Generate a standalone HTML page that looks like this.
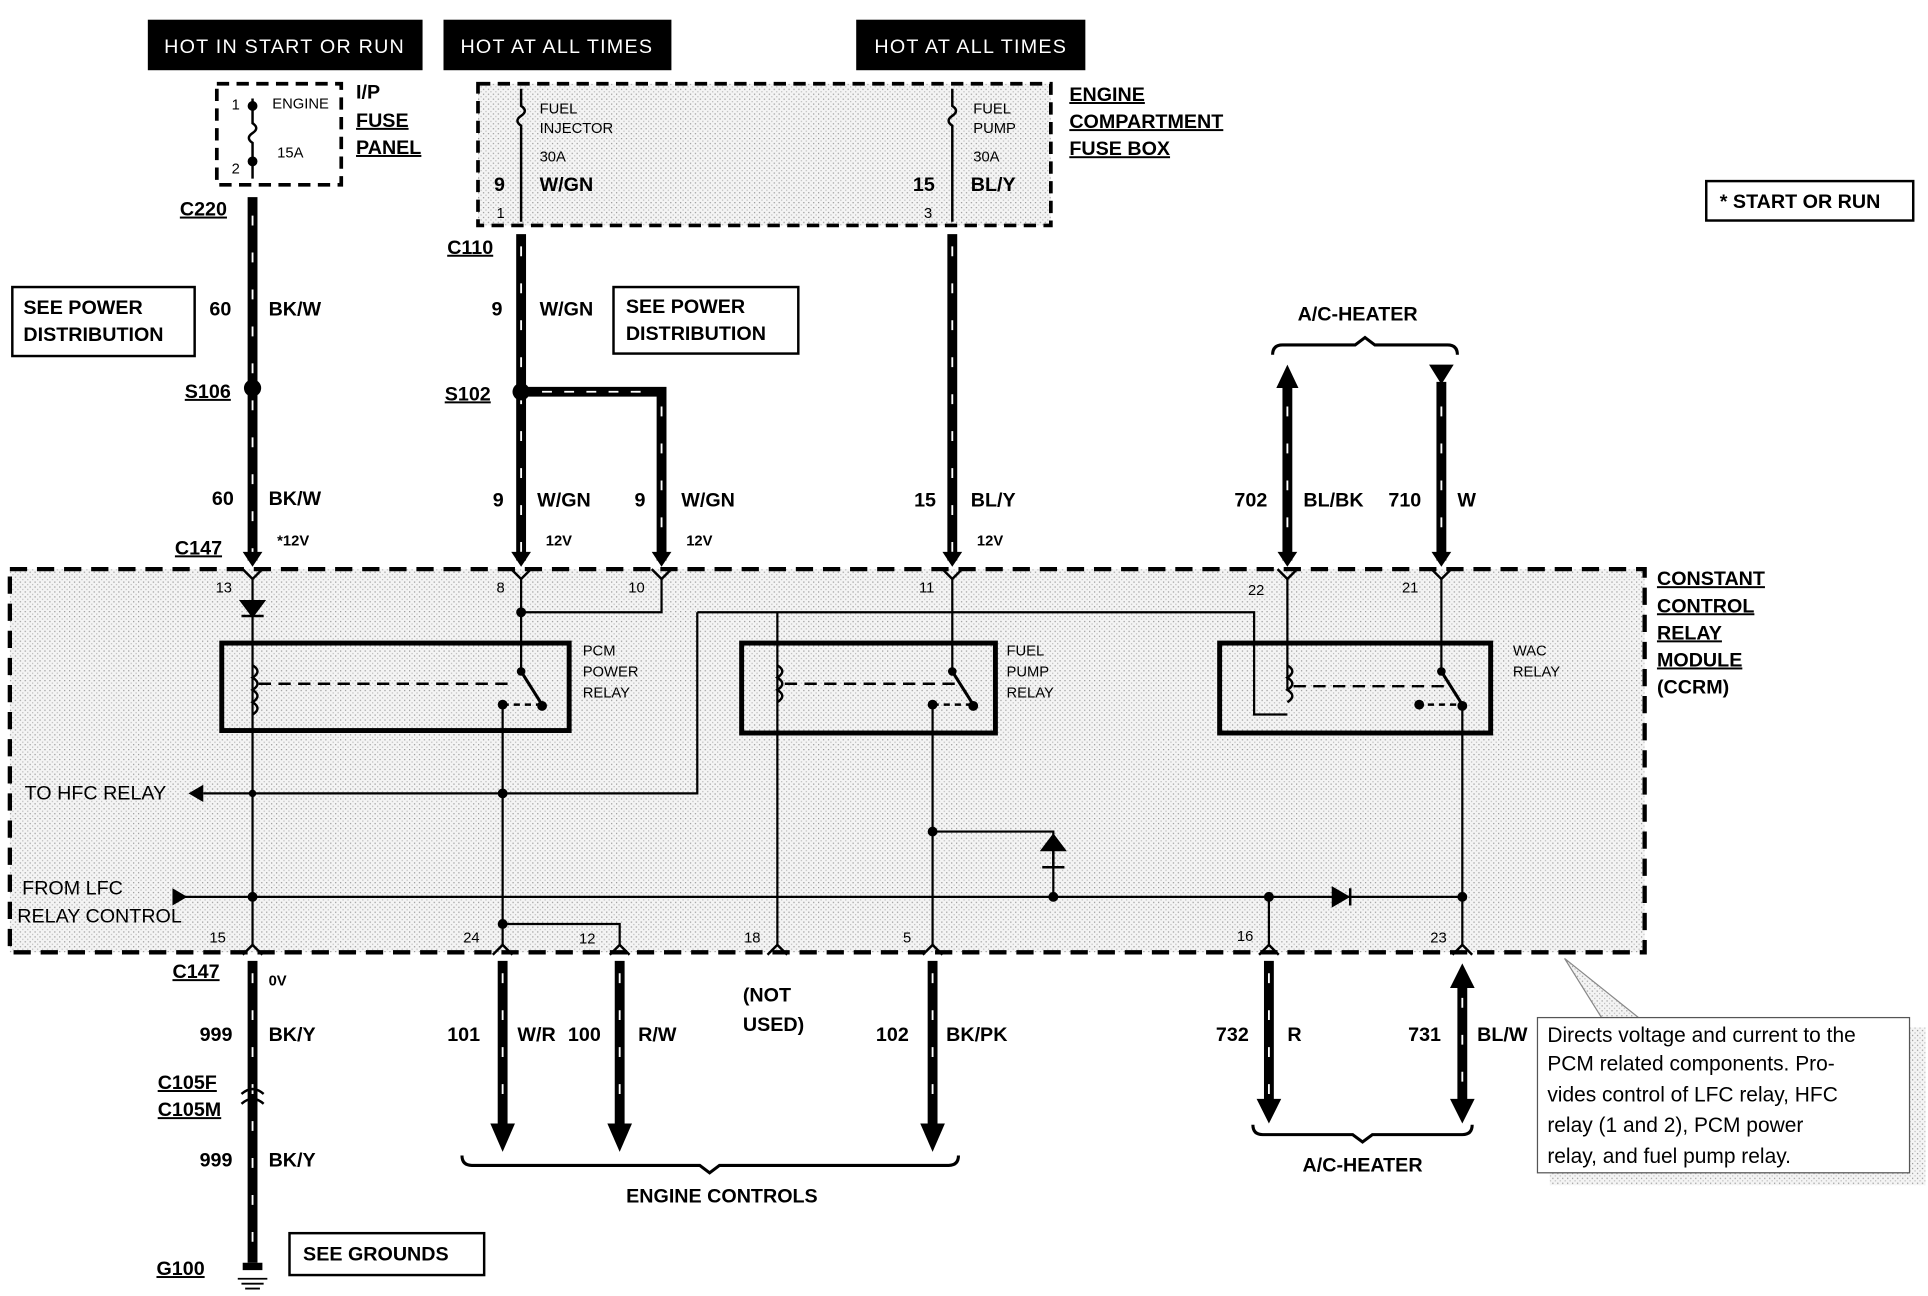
<!DOCTYPE html><html><head><style>html,body{margin:0;padding:0;background:#fff}svg{display:block}
text{font-family:"Liberation Sans",Arial,sans-serif;fill:#000}
.b{font-weight:bold;font-size:16px}.s{font-size:12px}.u{text-decoration:underline}
</style></head><body>
<svg width="1928" height="1296" viewBox="0 0 1565 1052" preserveAspectRatio="none" xmlns="http://www.w3.org/2000/svg">
<defs>
<pattern id="dot" width="4" height="4" patternUnits="userSpaceOnUse"><rect width="4" height="4" fill="#f4f4f4"/><rect width="1" height="1" fill="#999"/><rect x="2" y="2" width="1" height="1" fill="#bbb"/></pattern>
<marker id="ad" markerWidth="4" markerHeight="4" refX="2" refY="2" orient="auto" markerUnits="strokeWidth"><path d="M0,0 L4,2 L0,4z"/></marker>
</defs>
<!-- header boxes -->
<rect x="120" y="16" width="223" height="41" fill="#000"/><text x="231" y="43" text-anchor="middle" fill="#fff" style="fill:#fff;font-size:16px;letter-spacing:1px">HOT IN START OR RUN</text>
<rect x="360" y="16" width="185" height="41" fill="#000"/><text x="452" y="43" text-anchor="middle" style="fill:#fff;font-size:16px;letter-spacing:1px">HOT AT ALL TIMES</text>
<rect x="695" y="16" width="186" height="41" fill="#000"/><text x="788" y="43" text-anchor="middle" style="fill:#fff;font-size:16px;letter-spacing:1px">HOT AT ALL TIMES</text>
<!-- fuse panel -->
<rect x="176" y="68" width="101" height="82" fill="none" stroke="#000" stroke-width="3" stroke-dasharray="10,6"/>
<path d="M205,80 V100 q6,4 0,8 q-6,4 0,8 V145" fill="none" stroke="#000" stroke-width="2"/>
<circle cx="205" cy="86" r="4"/><circle cx="205" cy="131" r="4"/>
<text x="188" y="89" class="s">1</text><text x="188" y="141" class="s">2</text>
<text x="221" y="88" class="s">ENGINE</text><text x="225" y="128" class="s">15A</text>
<text x="289" y="80" class="b">I/P</text><text x="289" y="103" class="b u">FUSE</text><text x="289" y="125" class="b u">PANEL</text>
<!-- engine fuse box -->
<rect x="388" y="68" width="465" height="115" fill="url(#dot)" stroke="#000" stroke-width="3" stroke-dasharray="10,6"/>
<path d="M423,72 V86 q6,4 0,8 q-6,4 0,8 V180" fill="none" stroke="#000" stroke-width="2"/>
<path d="M773,72 V86 q6,4 0,8 q-6,4 0,8 V180" fill="none" stroke="#000" stroke-width="2"/>
<text x="438" y="92" class="s">FUEL</text><text x="438" y="108" class="s">INJECTOR</text><text x="438" y="131" class="s">30A</text>
<text x="790" y="92" class="s">FUEL</text><text x="790" y="108" class="s">PUMP</text><text x="790" y="131" class="s">30A</text>
<text x="401" y="155" class="b">9</text><text x="438" y="155" class="b">W/GN</text>
<text x="741" y="155" class="b">15</text><text x="788" y="155" class="b">BL/Y</text>
<text x="403" y="177" class="s">1</text><text x="750" y="177" class="s">3</text>
<text x="868" y="82" class="b u">ENGINE</text><text x="868" y="104" class="b u">COMPARTMENT</text><text x="868" y="126" class="b u">FUSE BOX</text>
<rect x="1385" y="147" width="168" height="32" fill="none" stroke="#000" stroke-width="2"/><text x="1396" y="169" class="b">* START OR RUN</text>
<!-- CCRM -->
<rect x="8" y="462" width="1327" height="311" fill="url(#dot)" stroke="#000" stroke-width="3.5" stroke-dasharray="14,8"/>
<text x="1345" y="475" class="b u">CONSTANT</text><text x="1345" y="497" class="b u">CONTROL</text><text x="1345" y="519" class="b u">RELAY</text><text x="1345" y="541" class="b u">MODULE</text><text x="1345" y="563" class="b">(CCRM)</text>
<!-- thick wires -->
<g stroke="#000" stroke-width="8" fill="none">
<path d="M205,160 V455"/><path d="M423,190 V455"/><path d="M423,318 H537 V455"/><path d="M773,190 V455"/>
<path d="M1045,310 V455"/><path d="M1170,310 V455"/>
<path d="M205,780 V1025"/><path d="M408,780 V915"/><path d="M503,780 V915"/><path d="M757,780 V915"/><path d="M1030,780 V895"/><path d="M1187,800 V895"/>
</g>
<g stroke="#fff" stroke-width="1.5" fill="none" stroke-dasharray="8,22">
<path d="M205,175 V450"/><path d="M423,200 V450"/><path d="M537,330 V450"/><path d="M773,200 V450"/><path d="M440,318 H530" stroke-dasharray="8,10"/>
<path d="M1045,330 V450"/><path d="M1170,330 V450"/>
<path d="M205,790 V1015"/><path d="M408,790 V905"/><path d="M503,790 V905"/><path d="M757,790 V905"/><path d="M1030,790 V890"/><path d="M1187,810 V890"/>
</g>
<!-- arrowheads -->
<g fill="#000">
<path d="M197,448 L213,448 L205,460z"/><path d="M415,448 L431,448 L423,460z"/><path d="M529,448 L545,448 L537,460z"/><path d="M765,448 L781,448 L773,460z"/><path d="M1037,448 L1053,448 L1045,460z"/><path d="M1162,448 L1178,448 L1170,460z"/>
<path d="M1036,315 L1054,315 L1045,296z"/><path d="M1160,296 L1180,296 L1170,312z"/>
<path d="M398,912 L418,912 L408,935z"/><path d="M493,912 L513,912 L503,935z"/><path d="M747,912 L767,912 L757,935z"/><path d="M1020,892 L1040,892 L1030,912z"/><path d="M1177,802 L1197,802 L1187,782z"/><path d="M1177,892 L1197,892 L1187,912z"/>
<circle cx="205" cy="315" r="7"/><circle cx="423" cy="318" r="7"/>
<path d="M197,1025 h16 v6 h-16z"/>
</g>
<path d="M193,1038 h24 M196,1042 h18 M199,1046 h12" stroke="#000" stroke-width="1.5"/>
<!-- connectors C147 marks -->
<g stroke="#000" stroke-width="2" fill="none">
<path d="M197,462 L205,470 L213,462"/><path d="M415,462 L423,470 L431,462"/><path d="M529,462 L537,470 L545,462"/><path d="M765,462 L773,470 L781,462"/><path d="M1037,462 L1045,470 L1053,462"/><path d="M1162,462 L1170,470 L1178,462"/>
<path d="M197,775 L205,767 L213,775"/><path d="M400,775 L408,767 L416,775"/><path d="M495,775 L503,767 L511,775"/><path d="M623,775 L631,767 L639,775"/><path d="M749,775 L757,767 L765,775"/><path d="M1022,775 L1030,767 L1038,775"/><path d="M1179,775 L1187,767 L1195,775"/>
<path d="M196,888 Q205,880 214,888 M196,896 Q205,888 214,896"/>
</g>
<!-- internal thin lines -->
<g stroke="#000" stroke-width="1.8" fill="none">
<path d="M205,470 V767"/><path d="M423,470 V545"/><path d="M537,470 V497 H423"/>
<path d="M408,572 V767"/><path d="M408,750 H503 V767"/>
<path d="M773,470 V545"/><path d="M757,572 V767"/><path d="M757,675 H855 V728"/>
<path d="M631,497 V767"/><path d="M566,497 H1018 V580 H1045"/><path d="M1045,470 V560"/>
<path d="M1170,470 V545"/><path d="M1187,572 V767"/><path d="M1030,728 V767"/>
<path d="M566,497 V644 H165"/>
<path d="M140,728 H1187"/>
</g>
<path d="M196,488 h18 l-9,12z M196,500 h18" stroke="#000" stroke-width="2" fill="#000"/>
<path d="M846,690 h18 l-9,-12z M846,704 h18 M855,690 v14" stroke="#000" stroke-width="2" fill="#000"/>
<path d="M1082,721 v14 l12,-7z M1096,721 v14" stroke="#000" stroke-width="2" fill="#000"/>
<path d="M165,637 v14 l-12,-7z" fill="#000"/><path d="M140,721 v14 l12,-7z" fill="#000"/>
<g fill="#000"><circle cx="423" cy="497" r="4"/><circle cx="205" cy="644" r="3"/><circle cx="205" cy="728" r="4"/><circle cx="408" cy="644" r="4"/><circle cx="408" cy="750" r="4"/><circle cx="757" cy="675" r="4"/><circle cx="855" cy="728" r="4"/><circle cx="1030" cy="728" r="4"/><circle cx="1187" cy="728" r="4"/></g>
<!-- relays -->
<g stroke="#000" fill="none">
<rect x="180" y="522" width="282" height="71" stroke-width="4"/><rect x="602" y="522" width="206" height="73" stroke-width="4"/><rect x="990" y="522" width="220" height="73" stroke-width="4"/>
<path d="M205,540 q8,5 0,10 q8,5 0,10 q8,5 0,10 q8,5 0,10" stroke-width="2"/>
<path d="M631,540 q8,5 0,10 q8,5 0,10 q8,5 0,10" stroke-width="2"/>
<path d="M1045,540 q8,5 0,10 q8,5 0,10 q8,5 0,10" stroke-width="2"/>
<path d="M210,555 H418" stroke-width="2" stroke-dasharray="10,6"/><path d="M637,555 H780" stroke-width="2" stroke-dasharray="10,6"/><path d="M1050,557 H1172" stroke-width="2" stroke-dasharray="10,6"/>
<path d="M423,545 L440,572" stroke-width="2.5"/><path d="M773,545 L790,572" stroke-width="2.5"/><path d="M1170,545 L1187,572" stroke-width="2.5"/>
<path d="M408,572 H440 M757,572 H790 M1150,572 H1187" stroke-width="2" stroke-dasharray="5,4"/>
</g>
<g fill="#000"><circle cx="423" cy="545" r="3.5"/><circle cx="440" cy="573" r="4"/><circle cx="408" cy="572" r="4"/><circle cx="773" cy="545" r="3.5"/><circle cx="790" cy="573" r="4"/><circle cx="757" cy="572" r="4"/><circle cx="1170" cy="545" r="3.5"/><circle cx="1187" cy="573" r="4"/><circle cx="1152" cy="572" r="4"/></g>
<text x="473" y="532" class="s">PCM</text><text x="473" y="549" class="s">POWER</text><text x="473" y="566" class="s">RELAY</text>
<text x="817" y="532" class="s">FUEL</text><text x="817" y="549" class="s">PUMP</text><text x="817" y="566" class="s">RELAY</text>
<text x="1228" y="532" class="s">WAC</text><text x="1228" y="549" class="s">RELAY</text>
<text x="20" y="649" style="font-size:16px">TO HFC  RELAY</text>
<text x="18" y="726" style="font-size:16px">FROM LFC</text><text x="14" y="749" style="font-size:16px">RELAY CONTROL</text>
<!-- pin numbers -->
<g class="s"><text x="175" y="481" class="s">13</text><text x="403" y="481" class="s">8</text><text x="510" y="481" class="s">10</text><text x="746" y="481" class="s">11</text><text x="1013" y="483" class="s">22</text><text x="1138" y="481" class="s">21</text>
<text x="170" y="765" class="s">15</text><text x="376" y="765" class="s">24</text><text x="470" y="766" class="s">12</text><text x="604" y="765" class="s">18</text><text x="733" y="765" class="s">5</text><text x="1004" y="764" class="s">16</text><text x="1161" y="765" class="s">23</text></g>
<!-- wire labels -->
<text x="146" y="175" class="b u">C220</text><text x="363" y="206" class="b u">C110</text>
<rect x="10" y="233" width="148" height="56" fill="none" stroke="#000" stroke-width="2"/><text x="19" y="255" class="b">SEE POWER</text><text x="19" y="277" class="b">DISTRIBUTION</text>
<rect x="498" y="233" width="150" height="54" fill="none" stroke="#000" stroke-width="2"/><text x="508" y="254" class="b">SEE POWER</text><text x="508" y="276" class="b">DISTRIBUTION</text>
<text x="170" y="256" class="b">60</text><text x="218" y="256" class="b">BK/W</text>
<text x="399" y="256" class="b">9</text><text x="438" y="256" class="b">W/GN</text>
<text x="150" y="323" class="b u">S106</text><text x="361" y="325" class="b u">S102</text>
<text x="172" y="410" class="b">60</text><text x="218" y="410" class="b">BK/W</text>
<text x="400" y="411" class="b">9</text><text x="436" y="411" class="b">W/GN</text><text x="515" y="411" class="b">9</text><text x="553" y="411" class="b">W/GN</text>
<text x="742" y="411" class="b">15</text><text x="788" y="411" class="b">BL/Y</text>
<text x="1002" y="411" class="b">702</text><text x="1058" y="411" class="b">BL/BK</text><text x="1127" y="411" class="b">710</text><text x="1183" y="411" class="b">W</text>
<text x="1102" y="260" class="b" text-anchor="middle">A/C-HEATER</text>
<path d="M1033,288 q0,-8 8,-8 H1100 l8,-6 l8,6 H1175 q8,0 8,8" fill="none" stroke="#000" stroke-width="2.5"/>
<text x="142" y="450" class="b u">C147</text><text x="225" y="443" style="font-size:12px;font-weight:bold">*12V</text><text x="443" y="443" style="font-size:12px;font-weight:bold">12V</text><text x="557" y="443" style="font-size:12px;font-weight:bold">12V</text><text x="793" y="443" style="font-size:12px;font-weight:bold">12V</text>
<text x="140" y="794" class="b u">C147</text><text x="218" y="800" style="font-size:12px;font-weight:bold">0V</text>
<text x="162" y="845" class="b">999</text><text x="218" y="845" class="b">BK/Y</text>
<text x="128" y="884" class="b u">C105F</text><text x="128" y="906" class="b u">C105M</text>
<text x="162" y="947" class="b">999</text><text x="218" y="947" class="b">BK/Y</text>
<text x="127" y="1035" class="b u">G100</text>
<rect x="235" y="1001" width="158" height="34" fill="none" stroke="#000" stroke-width="2"/><text x="246" y="1023" class="b">SEE GROUNDS</text>
<text x="363" y="845" class="b">101</text><text x="420" y="845" class="b">W/R</text><text x="461" y="845" class="b">100</text><text x="518" y="845" class="b">R/W</text>
<text x="603" y="813" class="b">(NOT</text><text x="603" y="837" class="b">USED)</text>
<text x="711" y="845" class="b">102</text><text x="768" y="845" class="b">BK/PK</text>
<text x="987" y="845" class="b">732</text><text x="1045" y="845" class="b">R</text><text x="1143" y="845" class="b">731</text><text x="1199" y="845" class="b">BL/W</text>
<path d="M375,938 q0,8 8,8 H568 l8,6 l8,-6 H770 q8,0 8,-8" fill="none" stroke="#000" stroke-width="2.5"/>
<text x="586" y="976" class="b" text-anchor="middle">ENGINE CONTROLS</text>
<path d="M1017,913 q0,8 8,8 H1098 l8,6 l8,-6 H1187 q8,0 8,-8" fill="none" stroke="#000" stroke-width="2.5"/>
<text x="1106" y="951" class="b" text-anchor="middle">A/C-HEATER</text>
<!-- callout -->
<rect x="1258" y="834" width="305" height="128" fill="url(#dot)"/>
<path d="M1270,778 L1300,826 L1330,826z" fill="url(#dot)" stroke="#888"/>
<rect x="1248" y="826" width="302" height="126" fill="#fff" stroke="#555" stroke-width="1"/>
<g style="font-size:17px"><text x="1256" y="846" style="font-size:17px">Directs voltage and current to the</text><text x="1256" y="869" style="font-size:17px">PCM related components. Pro-</text><text x="1256" y="894" style="font-size:17px">vides control of LFC relay, HFC</text><text x="1256" y="919" style="font-size:17px">relay (1 and 2), PCM power</text><text x="1256" y="944" style="font-size:17px">relay, and fuel pump relay.</text></g>
</svg></body></html>
